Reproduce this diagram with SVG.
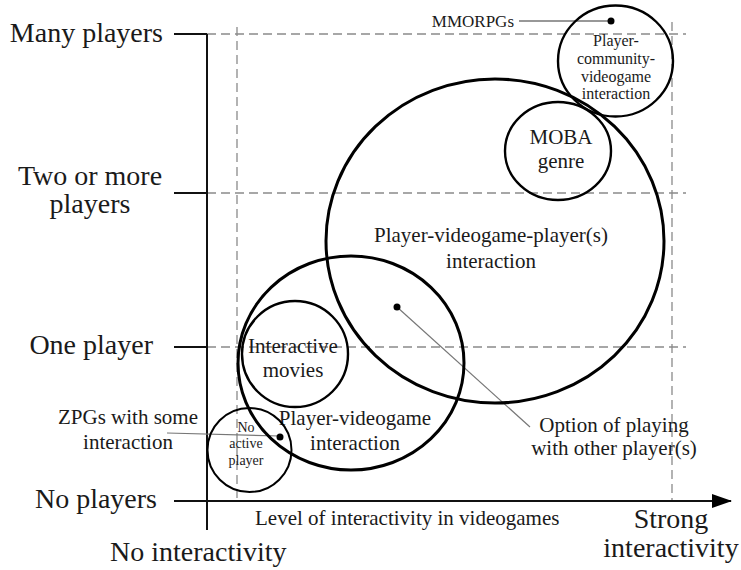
<svg xmlns="http://www.w3.org/2000/svg" width="741" height="570" viewBox="0 0 741 570">
<style>
text{font-family:"Liberation Serif","Times New Roman",serif;fill:#1a1a1a}
.ax{font-size:28px}
.lb{font-size:21px}
.dash{stroke:#8a8a8a;stroke-width:1.3;stroke-dasharray:9 5;fill:none}
.solid{stroke:#111;stroke-width:2;fill:none}
.c3{stroke:#000;stroke-width:3;fill:none}
.c2{stroke:#000;stroke-width:2.4;fill:none}
.lead{stroke:#777;stroke-width:1.2;fill:none}
</style>
<defs>
<marker id="arr" markerWidth="20" markerHeight="14" refX="19" refY="7" orient="auto" markerUnits="userSpaceOnUse">
<path d="M0,0 L20,7 L0,14 Z" fill="#000"/>
</marker>
</defs>
<rect width="741" height="570" fill="#fff"/>
<g id="grid">
<line class="dash" x1="207" y1="34" x2="686" y2="34"/>
<line class="dash" x1="207" y1="193" x2="686" y2="193"/>
<line class="dash" x1="207" y1="347" x2="686" y2="347"/>
<line class="dash" x1="237" y1="27" x2="237" y2="501"/>
<line class="dash" x1="672" y1="22" x2="672" y2="501"/>
</g>
<g id="axes">
<line class="solid" x1="207" y1="34" x2="207" y2="530"/>
<line class="solid" x1="174" y1="34" x2="207" y2="34"/>
<line class="solid" x1="174" y1="193" x2="207" y2="193"/>
<line class="solid" x1="174" y1="347" x2="207" y2="347"/>
<line class="solid" x1="174" y1="501" x2="731" y2="501" marker-end="url(#arr)"/>
<text class="ax" x="163" y="42" text-anchor="end">Many players</text>
<text class="ax" x="90" y="185" text-anchor="middle">Two or more</text>
<text class="ax" x="90" y="213" text-anchor="middle">players</text>
<text class="ax" x="153" y="354" text-anchor="end">One player</text>
<text class="ax" x="157" y="508" text-anchor="end">No players</text>
<text class="ax" x="110" y="561">No interactivity</text>
<text class="ax" x="671" y="528" text-anchor="middle">Strong</text>
<text class="ax" x="671" y="557" text-anchor="middle">interactivity</text>
<text class="lb" x="255" y="525">Level of interactivity in videogames</text>
</g>
<g id="connectors">
<line class="lead" x1="519" y1="21" x2="611" y2="21" style="stroke:#333"/>
<line class="lead" x1="397" y1="307" x2="530" y2="427"/>
<line class="lead" x1="167" y1="433" x2="280" y2="436"/>
</g>
<g id="pvp">
<ellipse class="c3" cx="495" cy="241" rx="169" ry="162"/>
<text class="lb" x="491" y="242" text-anchor="middle">Player-videogame-player(s)</text>
<text class="lb" x="491" y="268" text-anchor="middle">interaction</text>
<circle cx="397" cy="307" r="3.5" fill="#000"/>
</g>
<g id="pv">
<ellipse class="c3" cx="351" cy="363" rx="113" ry="107"/>
<text class="lb" x="355" y="425" text-anchor="middle">Player-videogame</text>
<text class="lb" x="355" y="450" text-anchor="middle">interaction</text>
</g>
<g id="movies">
<circle class="c2" cx="295" cy="354" r="53"/>
<text class="lb" x="293" y="353" text-anchor="middle">Interactive</text>
<text class="lb" x="293" y="377" text-anchor="middle">movies</text>
</g>
<g id="noactive">
<circle class="c2" cx="249.5" cy="450" r="42" style="stroke-width:2"/>
<text x="246" y="432" text-anchor="middle" font-size="14">No</text>
<text x="246" y="448" text-anchor="middle" font-size="14">active</text>
<text x="246" y="465" text-anchor="middle" font-size="14">player</text>
<circle cx="280" cy="437" r="3.5" fill="#000"/>
</g>
<g id="moba">
<ellipse class="c2" cx="558" cy="151" rx="53" ry="49"/>
<text class="lb" x="561" y="144" text-anchor="middle">MOBA</text>
<text class="lb" x="561" y="168" text-anchor="middle">genre</text>
</g>
<g id="community">
<ellipse class="c2" cx="615.5" cy="61" rx="57.5" ry="55.5"/>
<text x="616" y="46" text-anchor="middle" font-size="16">Player-</text>
<text x="616" y="64" text-anchor="middle" font-size="16">community-</text>
<text x="616" y="82" text-anchor="middle" font-size="16">videogame</text>
<text x="616" y="99" text-anchor="middle" font-size="16">interaction</text>
<circle cx="611" cy="21" r="3.5" fill="#000"/>
</g>
<g id="mmorpgs">
<text x="514" y="27" text-anchor="end" font-size="17">MMORPGs</text>
</g>
<g id="zpgs">
<text class="lb" x="128" y="424" text-anchor="middle">ZPGs with some</text>
<text class="lb" x="128" y="449" text-anchor="middle">interaction</text>
</g>
<g id="option">
<text class="lb" x="614" y="432" text-anchor="middle">Option of playing</text>
<text class="lb" x="614" y="455" text-anchor="middle">with other player(s)</text>
</g>
</svg>
